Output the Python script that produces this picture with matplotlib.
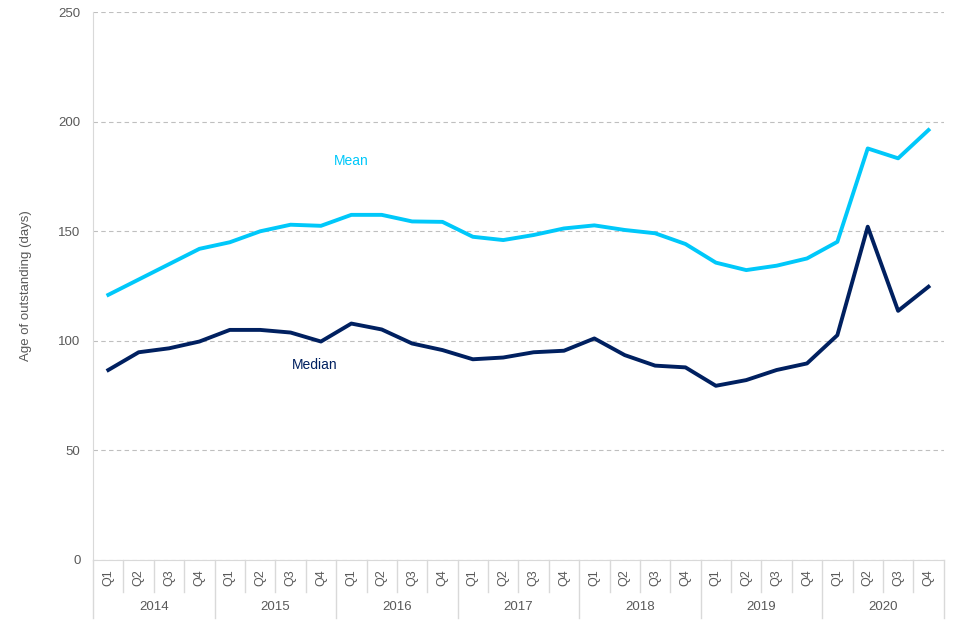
import numpy as np
import matplotlib as mpl
mpl.use("Agg")
import matplotlib.pyplot as plt
import matplotlib.transforms as mtransforms

plt.rcParams['font.family'] = ['Liberation Sans', 'DejaVu Sans']

years = ['2014', '2015', '2016', '2017', '2018', '2019', '2020']
quarters = ['Q1', 'Q2', 'Q3', 'Q4']

mean_days = [121, 128, 135, 142, 145, 150, 153, 152.5,
             157.5, 157.5, 154.5, 154.3, 147.5, 146, 148.3, 151.3,
             152.7, 150.6, 149.1, 144.2, 135.7, 132.3, 134.3, 137.6,
             145.2, 187.8, 183.3, 196.2]
median_days = [86.7, 94.8, 96.6, 99.7, 105, 105, 103.8, 99.7,
               107.9, 105.2, 98.8, 95.8, 91.6, 92.4, 94.8, 95.5,
               101.1, 93.5, 88.7, 87.9, 79.5, 82.1, 86.7, 89.7,
               102.6, 152.1, 113.7, 124.7]

mean_col = '#00C8FA'
median_col = '#002060'
grey_txt = '#595959'
line_grey = '#D9D9D9'

n = len(mean_days)
x = np.arange(n)

fig = plt.figure(figsize=(9.6, 6.4), dpi=100)
ax = fig.add_axes([0.097, 0.125, 0.886, 0.856])

ax.plot(x, mean_days, color=mean_col, lw=2.8, solid_joinstyle='round')
ax.plot(x, median_days, color=median_col, lw=2.8, solid_joinstyle='round')

ax.text(8, 182, 'Mean', color=mean_col, fontsize=10, ha='center', va='center')
ax.text(6.8, 89, 'Median', color=median_col, fontsize=10, ha='center', va='center')

ax.set_xlim(-0.5, n - 0.5)
ax.set_ylim(0, 250)
ax.set_yticks([0, 50, 100, 150, 200, 250])
ax.yaxis.grid(True, linestyle=(0, (4, 3)), color='#BFBFBF', lw=0.8)
ax.set_axisbelow(True)
ax.tick_params(axis='y', length=0, labelsize=9.5, labelcolor=grey_txt, pad=9)
ax.set_ylabel('Age of outstanding (days)', fontsize=9.5, color=grey_txt, labelpad=19)

for s in ['top', 'right']:
    ax.spines[s].set_visible(False)
ax.spines['left'].set_color(line_grey)
ax.spines['bottom'].set_color(line_grey)

# two-level category axis
ax.set_xticks(x)
ax.set_xticklabels(quarters * len(years), rotation=90, fontsize=9, color=grey_txt)
ax.tick_params(axis='x', length=0, pad=7)

trans = mtransforms.blended_transform_factory(ax.transData, ax.transAxes)
for i in range(n + 1):
    pos = i - 0.5
    depth = -0.105 if i % 4 == 0 else -0.058
    ax.plot([pos, pos], [0, depth], transform=trans, color=line_grey, lw=1, clip_on=False)
for j, yr in enumerate(years):
    ax.text(j * 4 + 1.5, -0.085, yr, transform=trans, ha='center', va='center',
            fontsize=9.5, color=grey_txt)

plt.savefig("out.png", dpi=100)
